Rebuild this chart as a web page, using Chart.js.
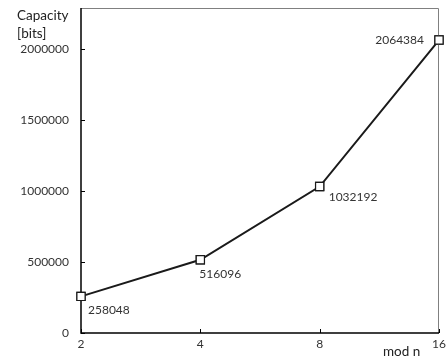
<!DOCTYPE html>
<html>
<head>
<meta charset="utf-8">
<script src="https://cdn.jsdelivr.net/npm/chart.js@4.4.1/dist/chart.umd.min.js"></script>
<style>
  html, body { margin: 0; padding: 0; background: #fff; }
  #wrap { width: 446px; height: 362px; }
</style>
</head>
<body>
<div id="wrap"><canvas id="chart"></canvas></div>
<script>
const modN = ['2', '4', '8', '16']
const capacity = [258048, 516096, 1032192, 2064384]
const yTicks = [0, 500000, 1000000, 1500000, 2000000]
const yTitle = ['Capacity', '[bits]']
const xTitle = 'mod n'

// label offsets next to each marker: [dx, dy, align]
const labelPos = [[7, 14, 'left'], [-1, 14, 'left'], [9, 11, 'left'], [-15, 0, 'right']]

const FONT = 'Lato, "Open Sans", sans-serif'

const extras = {
    id: 'extras',
    afterDraw(chart) {
        const ctx = chart.ctx
        const a = chart.chartArea
        const xs = chart.scales.x, ys = chart.scales.y
        ctx.save()
        // frame on top and right
        ctx.strokeStyle = '#808080'
        ctx.lineWidth = 1
        ctx.beginPath()
        ctx.moveTo(a.left, Math.round(a.top) + 0.5)
        ctx.lineTo(Math.round(a.right) - 0.5, Math.round(a.top) + 0.5)
        ctx.lineTo(Math.round(a.right) - 0.5, a.bottom)
        ctx.stroke()
        // main axes
        ctx.strokeStyle = '#000'
        ctx.lineWidth = 1.5
        ctx.beginPath()
        ctx.moveTo(a.left, a.top)
        ctx.lineTo(a.left, a.bottom)
        ctx.lineTo(a.right, a.bottom)
        ctx.stroke()
        // inside tick marks
        ctx.lineWidth = 1
        ctx.beginPath()
        yTicks.forEach(v => {
            const py = Math.round(ys.getPixelForValue(v)) + 0.5
            ctx.moveTo(a.left, py)
            ctx.lineTo(a.left + 4, py)
        })
        modN.forEach((c, i) => {
            const px = Math.round(xs.getPixelForValue(i)) + 0.5
            ctx.moveTo(px, a.bottom)
            ctx.lineTo(px, a.bottom - 4)
        })
        ctx.stroke()
        // value labels
        ctx.fillStyle = '#333'
        ctx.font = '12px ' + FONT
        ctx.textBaseline = 'middle'
        const meta = chart.getDatasetMeta(0)
        meta.data.forEach((pt, i) => {
            const [dx, dy, al] = labelPos[i]
            ctx.textAlign = al
            ctx.fillText(String(capacity[i]), pt.x + dx, pt.y + dy)
        })
        // axis titles
        ctx.fillStyle = '#222'
        ctx.font = '13.5px ' + FONT
        ctx.textAlign = 'left'
        ctx.fillText(yTitle[0], 17, 16)
        ctx.fillText(yTitle[1], 17, 34)
        ctx.fillText(xTitle, 383, 352)
        // redraw markers above axes
        meta.data.forEach(pt => pt.draw(ctx, a))
        ctx.restore()
    }
}

new Chart(document.getElementById('chart'), {
    type: 'line',
    data: {
        labels: modN,
        datasets: [{
            data: capacity,
            borderColor: '#1a1a1a',
            borderWidth: 2,
            tension: 0,
            pointStyle: 'rect',
            pointRadius: 5.8,
            pointBorderWidth: 1.2,
            pointBackgroundColor: '#fff',
            pointBorderColor: '#1a1a1a'
        }]
    },
    options: {
        responsive: true,
        maintainAspectRatio: false,
        animation: false,
        layout: { padding: { top: 8, right: 7, left: 0, bottom: 0 } },
        plugins: { legend: { display: false }, tooltip: { enabled: false } },
        scales: {
            x: {
                type: 'category',
                offset: false,
                grid: { display: false, drawTicks: false },
                border: { display: false },
                ticks: { color: '#333', font: { family: FONT, size: 12 }, padding: 4, maxRotation: 0 },
                afterFit(s) { s.height = 29; s.paddingLeft = 0; s.paddingRight = 0 }
            },
            y: {
                min: 0,
                max: 2290000,
                grid: { display: false, drawTicks: false },
                border: { display: false },
                afterBuildTicks(s) { s.ticks = yTicks.map(v => ({ value: v })) },
                ticks: {
                    color: '#333', font: { family: FONT, size: 12 }, padding: 12,
                    callback: v => String(v)
                },
                afterFit(s) { s.width = 81; s.paddingTop = 0; s.paddingBottom = 0 }
            }
        }
    },
    plugins: [extras]
})
</script>
</body>
</html>
